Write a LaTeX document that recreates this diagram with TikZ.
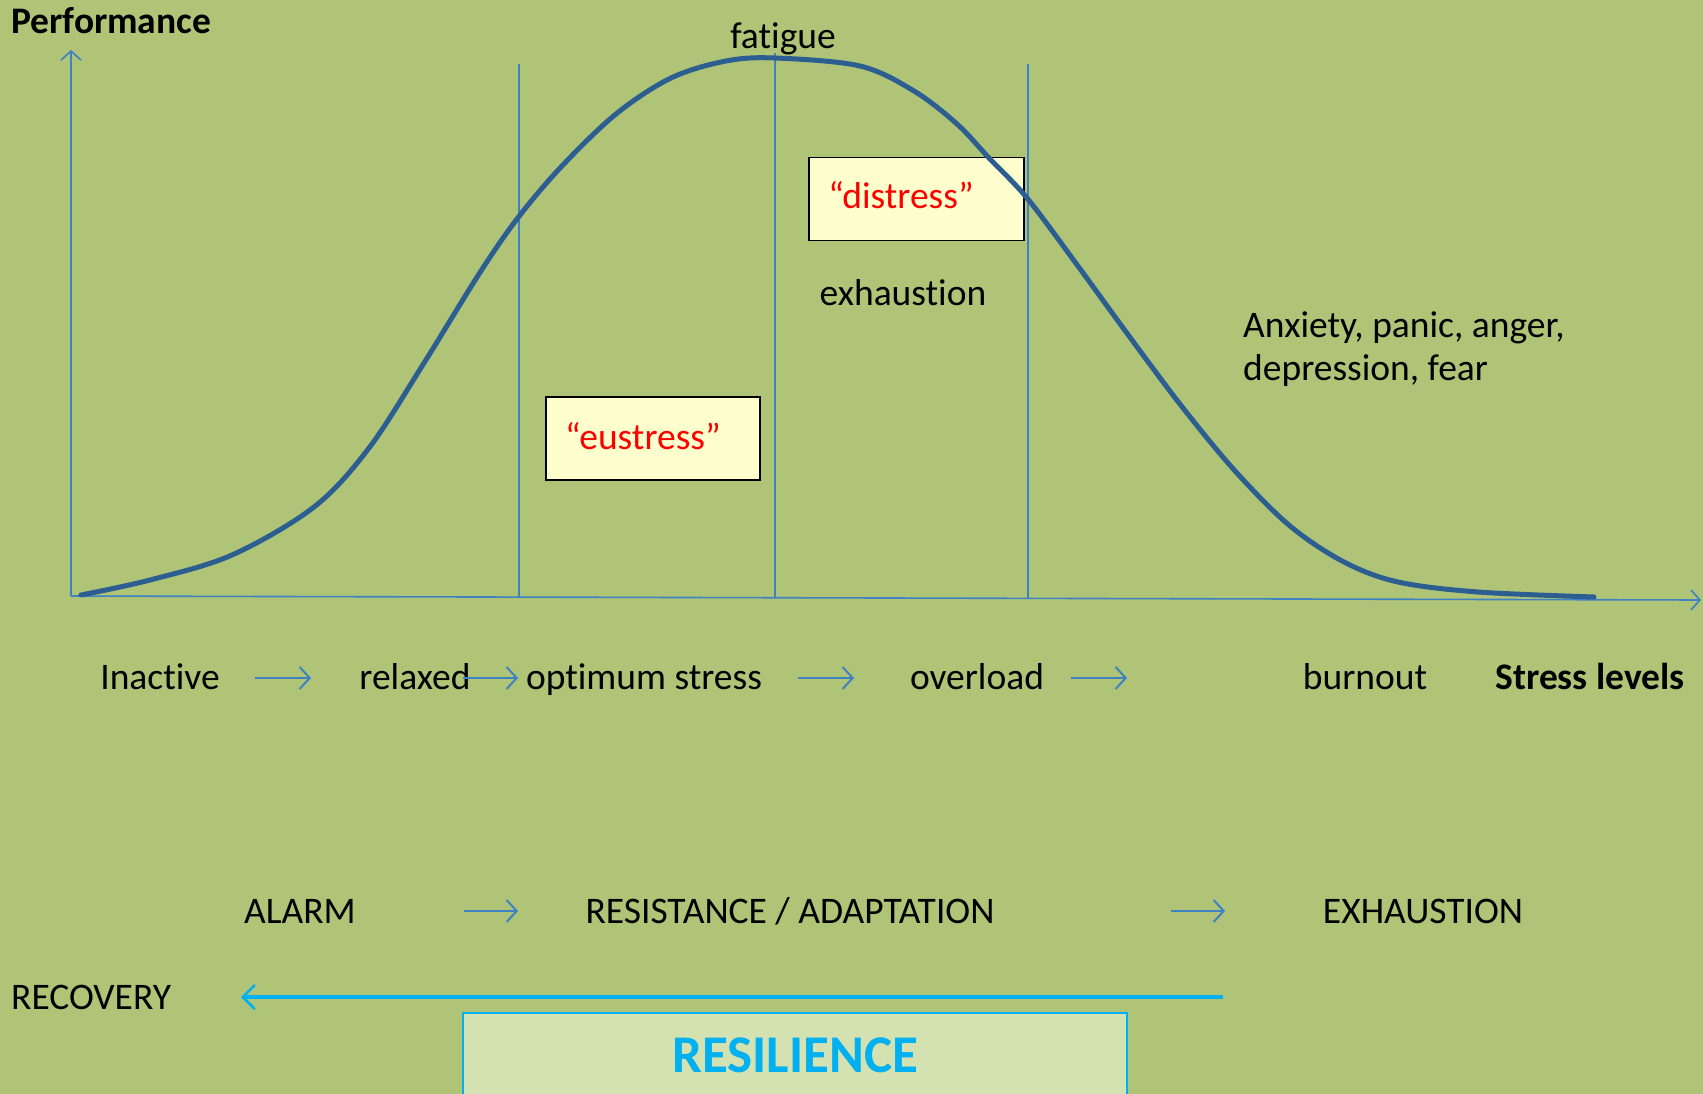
\documentclass[tikz,border=0pt]{standalone}
\usepackage{fontspec}
\setmainfont{Carlito}[Ligatures={NoCommon}, RawFeature={-liga;-dlig;-clig}]
\usetikzlibrary{arrows.meta}
\definecolor{bg}{RGB}{175,196,118}
\definecolor{curve}{RGB}{44,94,145}
\definecolor{axis}{RGB}{62,130,196}
\definecolor{boxfill}{RGB}{255,255,206}
\definecolor{cyanb}{RGB}{0,176,240}
\definecolor{resfill}{RGB}{211,226,176}
\definecolor{redt}{RGB}{255,0,0}
\tikzset{
  txt/.style={anchor=base, inner sep=0pt, font=\fontsize{37.5}{43}\selectfont},
  btxt/.style={txt, font=\fontsize{37.5}{43}\selectfont\bfseries},
  redtxt/.style={txt, text=redt},
  yellowbox/.style={draw=black, line width=1.5pt, fill=boxfill},
  axisline/.style={draw=axis, line width=1.6pt},
  axisarrow/.style={axisline, -{Straight Barb[length=9pt,width=20pt,line width=1.6pt]}},
  smallarrow/.style={draw=axis, line width=2.2pt, -{Straight Barb[length=10pt,width=22pt,line width=2pt]}},
  vline/.style={draw=axis, line width=1.2pt},
  recarrow/.style={draw=cyanb, line width=4pt, -{Straight Barb[length=12pt,width=24pt,line width=2.5pt]}}
}
\begin{document}
\begin{tikzpicture}[x=1pt,y=-1pt]
\useasboundingbox (0,0) rectangle (1703,1094);
\fill[bg] (0,0) rectangle (1703,1094);

% axes
\coordinate (origin) at (71,596);
\coordinate (ytop) at (71,50);
\coordinate (xend) at (1701,600);
\draw[axisarrow] (origin) -- (ytop);
\draw[axisarrow] (origin) -- (xend);

% vertical zone lines
\coordinate (v1t) at (519,64);  \coordinate (v1b) at (519,597);
\coordinate (v2t) at (775,53);  \coordinate (v2b) at (775,598);
\coordinate (v3t) at (1028,64); \coordinate (v3b) at (1028,599);
\draw[vline] (v1t) -- (v1b);
\draw[vline] (v2t) -- (v2b);
\draw[vline] (v3t) -- (v3b);

% boxes
\node[yellowbox, minimum width=214pt, minimum height=83pt, anchor=north west] (eubox) at (545,396) {};
\node[yellowbox, minimum width=215pt, minimum height=83pt, anchor=north west] (disbox) at (808,157) {};

% curve
\draw[curve, line width=5pt, line cap=round] plot[smooth, tension=0.55] coordinates {
 (81,595) (150,580) (232,555) (314,507) (369,448) (424,363) (479,274) (517,219)
 (561,167) (616,114) (671,78) (726,61) (775,58) (860,66) (914,91) (957,124)
 (989,158) (1027,198) (1075,262) (1129,336) (1183,408) (1236,472) (1290,526)
 (1344,562) (1398,582) (1478,592) (1594,597)};

% texts
\node[btxt, anchor=base west] (perf) at (11,34) {Performance};
\node[txt] (fatigue) at (783,49) {fatigue};
\node[redtxt] (distress) at (901,209) {“distress”};
\node[txt] (exh) at (903,305) {exhaustion};
\node[redtxt] (eustress) at (643,449) {“eustress”};
\node[txt, anchor=base west] (anx1) at (1243,337) {Anxiety, panic, anger,};
\node[txt, anchor=base west] (anx2) at (1243,380) {depression, fear};

% row 1
\node[txt] (inactive) at (160,689) {Inactive};
\node[txt] (relaxed) at (415,689) {relaxed};
\node[txt] (optimum) at (644,689) {optimum stress};
\node[txt] (overload) at (977,689) {overload};
\node[txt] (burnout) at (1365,689) {burnout};
\node[btxt] (stresslv) at (1590,689) {Stress levels};
\coordinate (a1s) at (255,678); \coordinate (a1e) at (311,678);
\coordinate (a2s) at (463,678); \coordinate (a2e) at (518,678);
\coordinate (a3s) at (798,678); \coordinate (a3e) at (854,678);
\coordinate (a4s) at (1071,678); \coordinate (a4e) at (1127,678);
\draw[smallarrow] (a1s) -- (a1e);
\draw[smallarrow] (a2s) -- (a2e);
\draw[smallarrow] (a3s) -- (a3e);
\draw[smallarrow] (a4s) -- (a4e);

% row 2
\node[txt] (alarm) at (300,923) {ALARM};
\node[txt] (resist) at (790,923) {RESISTANCE / ADAPTATION};
\node[txt] (exhcap) at (1423,923) {EXHAUSTION};
\coordinate (b1s) at (464,911); \coordinate (b1e) at (518,911);
\coordinate (b2s) at (1171,911); \coordinate (b2e) at (1225,911);
\draw[smallarrow] (b1s) -- (b1e);
\draw[smallarrow] (b2s) -- (b2e);

% recovery
\node[txt, anchor=base west] (recovery) at (11,1009) {RECOVERY};
\coordinate (recs) at (1223,997); \coordinate (rece) at (241,997);
\draw[recarrow] (recs) -- (rece);

% resilience box
\fill[resfill] (463,1013) rectangle (1127,1100);
\draw[cyanb, line width=1.5pt] (463,1100) -- (463,1013) -- (1127,1013) -- (1127,1100);
\draw[cyanb, line width=2.5pt] (463,1013) -- (1127,1013);
\node[txt, font=\fontsize{53}{60}\selectfont\bfseries, text=cyanb] (resil) at (795,1072) {RESILIENCE};
\end{tikzpicture}
\end{document}
